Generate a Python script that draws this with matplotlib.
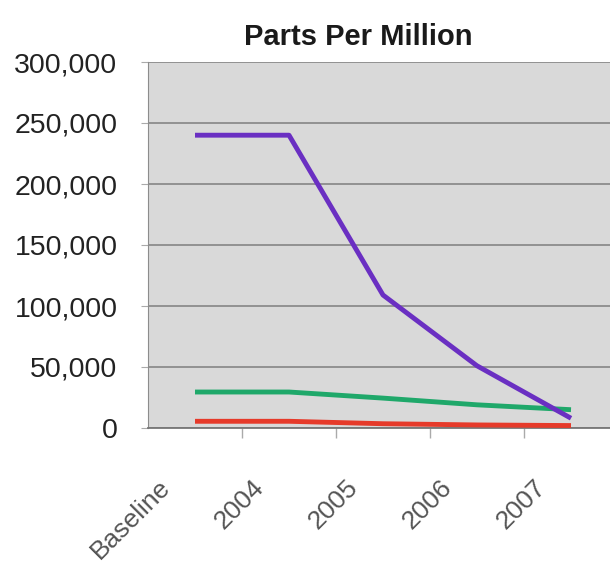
import matplotlib
matplotlib.use('Agg')
import matplotlib.pyplot as plt
import matplotlib.transforms as mtransforms
import numpy as np

categories = ['Baseline', '2004', '2005', '2006', '2007']
purple_ppm = [240000, 240000, 109000, 51000, 8000]
green_ppm = [29500, 29500, 24500, 19000, 15000]
red_ppm = [5500, 5500, 3500, 2500, 2000]
yticks = [0, 50000, 100000, 150000, 200000, 250000, 300000]

plt.rcParams['font.family'] = ['Liberation Sans Narrow', 'Liberation Sans', 'DejaVu Sans']

fig = plt.figure(figsize=(6.10, 5.68), dpi=100)
ax = fig.add_axes([148/610, 1-428/568, 470/610, 366/568])
ax.set_facecolor('#d9d9d9')

x = np.arange(len(categories))
ax.plot(x, red_ppm, color='#e63a2a', lw=3.5, solid_capstyle='butt', zorder=3)
ax.plot(x, green_ppm, color='#1fa86a', lw=3.5, solid_capstyle='butt', zorder=3)
ax.plot(x, purple_ppm, color='#6a2fc2', lw=3.5, solid_capstyle='butt', zorder=4)

ax.set_xlim(-0.5, 4.5)
ax.set_ylim(0, 300000)
ax.set_yticks(yticks)
ax.set_yticklabels([f'{v:,}' for v in yticks], fontsize=20.5, color='#222222')
ax.yaxis.grid(True, color='#8c8c8c', lw=1.3)
ax.set_axisbelow(True)

ax.set_xticks(x)
ax.set_xticklabels(categories, fontsize=19, color='#555555', rotation=45,
                   ha='right', va='top', rotation_mode='anchor')
ax.set_xticks(x[:-1] + 0.5, minor=True)
ax.tick_params(axis='x', which='major', length=0, pad=0)
ax.tick_params(axis='x', which='minor', length=7, color='#aaaaaa', width=1)
ax.tick_params(axis='y', length=5, color='#aaaaaa', pad=17)

# excel puts the rotated labels well below and left of the category
offset = mtransforms.ScaledTranslation(-0.37, -0.47, fig.dpi_scale_trans)
for lab in ax.get_xticklabels():
    lab.set_transform(lab.get_transform() + offset)

for s in ['top', 'right']:
    ax.spines[s].set_visible(False)
ax.spines['left'].set_color('#8c8c8c')
ax.spines['bottom'].set_color('#777777')
ax.spines['bottom'].set_linewidth(1.3)

fig.text(358/610, 1-37/568, 'Parts Per Million', ha='center', va='center',
         fontsize=21, fontweight='bold', color='#1a1a1a')

fig.savefig('out.png', dpi=100)
